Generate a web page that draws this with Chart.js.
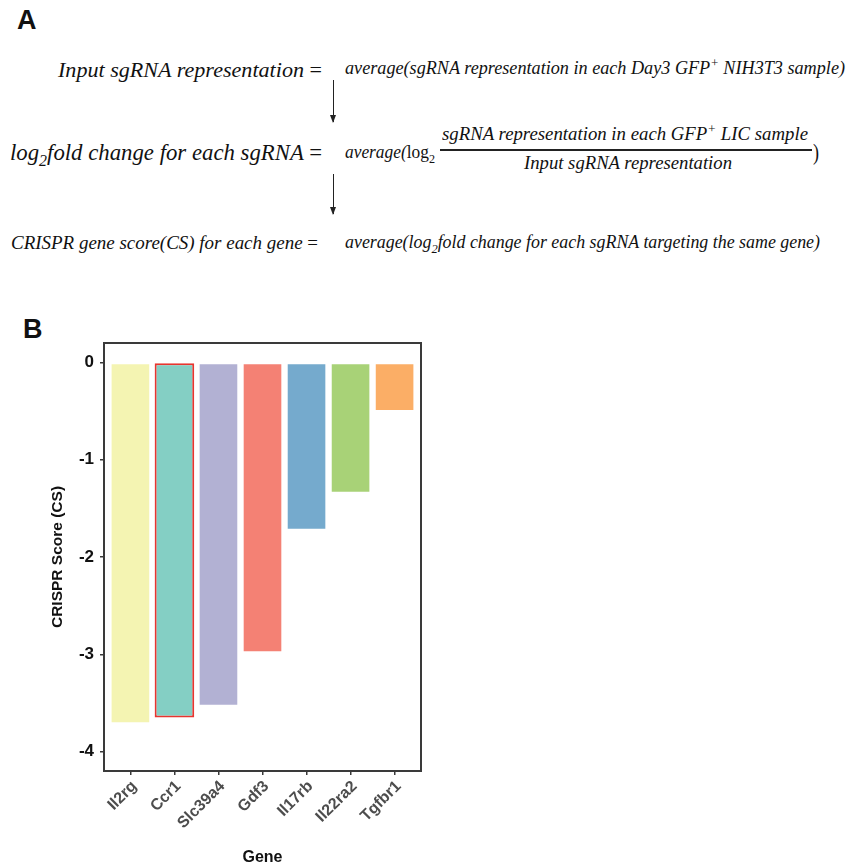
<!DOCTYPE html>
<html>
<head>
<meta charset="utf-8">
<script src="https://cdn.jsdelivr.net/npm/chart.js@4"></script>
<style>
  html, body { margin: 0; padding: 0; background: #fff; }
  #page { position: relative; width: 847px; height: 867px; overflow: hidden; }
  .tag { position: absolute; font: bold 27px "Liberation Sans", Arial, sans-serif; color: #111; }
  .eq {
    position: absolute; white-space: nowrap; line-height: 1;
    font-family: "Liberation Serif", "DejaVu Serif", serif; font-style: italic; color: #111;
    transform-origin: left center;
  }
  .eq .up { font-style: normal; }
  .eq sup, .eq sub { font-size: 0.7em; line-height: 0; }
  .arrow { position: absolute; width: 1px; background: #222; }
  .arrow::after {
    content: ""; position: absolute; left: -3px; bottom: -1px;
    border-left: 3.5px solid transparent; border-right: 3.5px solid transparent; border-top: 8px solid #222;
  }
  .rule { position: absolute; height: 1.5px; background: #222; }
  #chartBox { position: absolute; left: 0; top: 300px; width: 440px; height: 567px; }
</style>
</head>
<body>
<div id="page">
  <div class="tag" style="left:17px; top:5px;">A</div>

  <!-- formulas: data-x = left edge, data-w = drawn width, data-y = vertical centre -->
  <div class="eq" data-x="58" data-w="264" data-y="70" style="font-size:22px">Input sgRNA representation <span class="up">=</span></div>
  <div class="eq" data-x="345" data-w="500" data-y="68" style="font-size:18px">average(sgRNA representation in each Day3 GFP<sup>+</sup> NIH3T3 sample)</div>
  <div class="arrow" style="left:333px; top:80px; height:42px;"></div>

  <div class="eq" data-x="10" data-w="312" data-y="152" style="font-size:24px">log<sub>2</sub>fold change for each sgRNA <span class="up">=</span></div>
  <div class="eq" data-x="345" data-w="90" data-y="152" style="font-size:18px">average(<span class="up">log<sub>2</sub></span></div>
  <div class="eq" data-x="442" data-w="366" data-y="134" style="font-size:18px">sgRNA representation in each GFP<sup>+</sup> LIC sample</div>
  <div class="rule" style="left:440px; top:149px; width:372px;"></div>
  <div class="eq" data-x="524" data-w="208" data-y="163" style="font-size:18px">Input sgRNA representation</div>
  <div class="eq" data-x="813" data-w="6" data-y="152" style="font-size:24px"><span class="up">)</span></div>
  <div class="arrow" style="left:333px; top:174px; height:40px;"></div>

  <div class="eq" data-x="11" data-w="307" data-y="242" style="font-size:19px">CRISPR gene score(CS) for each gene <span class="up">=</span></div>
  <div class="eq" data-x="345" data-w="475" data-y="242" style="font-size:18px">average(log<sub>2</sub>fold change for each sgRNA targeting the same gene)</div>

  <div class="tag" style="left:23px; top:314px;">B</div>
  <div id="chartBox"><canvas id="cs"></canvas></div>
</div>

<script>
const genes = ['Il2rg', 'Ccr1', 'Slc39a4', 'Gdf3', 'Il17rb', 'Il22ra2', 'Tgfbr1'];
const scores = [-3.71, -3.65, -3.53, -2.98, -1.72, -1.34, -0.50];
const barColors = ['#f4f4b2', '#84cfc4', '#b2b1d3', '#f48174', '#75aacd', '#a8d277', '#fbae66'];
const yTicks = [0, -1, -2, -3, -4];
const highlight = 'Ccr1';

// squeeze each formula line to its slot
document.querySelectorAll('.eq').forEach(el => {
  const r = el.getBoundingClientRect();
  const s = (+el.dataset.w) / r.width;
  el.style.left = el.dataset.x + 'px';
  el.style.top = (+el.dataset.y - r.height / 2) + 'px';
  el.style.transform = 'scaleX(' + s + ')';
});

const frame = {
  id: 'frame',
  afterDraw(chart) {
    const { ctx, chartArea: a } = chart;
    ctx.save();
    ctx.strokeStyle = '#3a3a3a';
    ctx.lineWidth = 2;
    ctx.strokeRect(a.left, a.top, a.right - a.left, a.bottom - a.top);
    ctx.restore();
  }
};

const sans = '"Liberation Sans", Arial, sans-serif';

new Chart(document.getElementById('cs'), {
  type: 'bar',
  data: {
    datasets: [{
      data: genes.map((g, i) => ({ x: i, y: scores[i] })),
      backgroundColor: barColors,
      borderColor: genes.map(g => g === highlight ? '#e8352f' : '#ffffff'),
      borderWidth: genes.map(g => g === highlight ? 2 : 1),
      borderSkipped: false,
      barPercentage: 0.9,
      categoryPercentage: 1
    }]
  },
  options: {
    responsive: true,
    maintainAspectRatio: false,
    animation: false,
    layout: { padding: { top: 43, right: 19, left: 0, bottom: 0 } },
    plugins: { legend: { display: false }, tooltip: { enabled: false } },
    scales: {
      x: {
        type: 'linear',
        offset: false,
        min: -0.6,
        max: genes.length - 0.4,
        bounds: 'data',
        afterBuildTicks: s => { s.ticks = genes.map((g, i) => ({ value: i })); },
        afterFit: s => { s.height = 96; },
        grid: { offset: false, drawOnChartArea: false, tickLength: 4, color: '#3a3a3a', lineWidth: 1.5 },
        border: { display: false },
        ticks: {
          autoSkip: false,
          minRotation: 45,
          maxRotation: 45,
          padding: 2,
          labelOffset: 4,
          color: '#4d4d4d',
          font: { family: sans, size: 16, weight: 'bold' },
          callback: v => genes[v]
        },
        title: {
          display: true,
          text: 'Gene',
          color: '#111',
          font: { family: sans, size: 16, weight: 'bold' },
          padding: { top: 0, bottom: 0 }
        }
      },
      y: {
        min: -4.2,
        max: 0.2,
        bounds: 'data',
        afterBuildTicks: s => { s.ticks = yTicks.map(v => ({ value: v })); },
        afterFit: s => { s.width = 104; },
        grid: { drawOnChartArea: false, tickLength: 4, color: '#3a3a3a', lineWidth: 1.5 },
        border: { display: false },
        ticks: {
          padding: 6,
          color: '#111',
          font: { family: sans, size: 17, weight: 'bold' },
          callback: v => String(v)
        },
        title: {
          display: true,
          text: 'CRISPR Score (CS)',
          color: '#111',
          font: { family: sans, size: 15.5, weight: 'bold' },
          padding: { top: 48, bottom: 0 }
        }
      }
    }
  },
  plugins: [frame]
});
</script>
</body>
</html>
